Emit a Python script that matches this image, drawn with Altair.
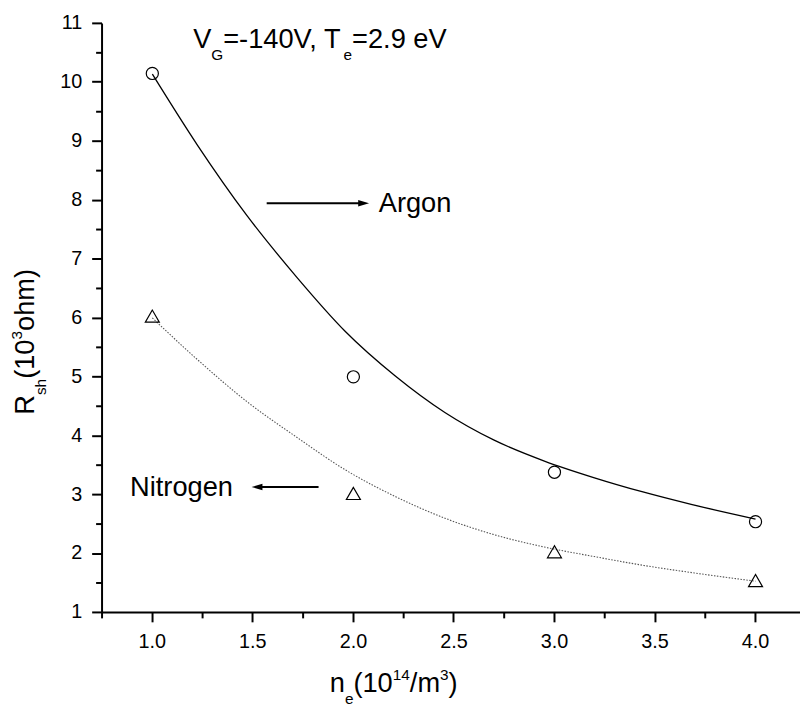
import altair as alt
import pandas as pd

# ---------------- data ----------------
ne = [1.0, 2.0, 3.0, 4.0]
argon_r = [10.15, 5.0, 3.38, 2.54]
nitrogen_r = [6.03, 3.02, 2.03, 1.54]

# fitted curves
argon_fit_x = [1.0, 1.225, 1.47, 1.72, 1.96, 2.21, 2.455, 2.70, 2.95, 3.195, 3.44, 3.685, 4.0]
argon_fit_y = [10.14, 8.93, 7.74, 6.685, 5.77, 5.01, 4.395, 3.925, 3.57, 3.29, 3.045, 2.83, 2.585]

nitrogen_fit_x = [1.0, 1.225, 1.47, 1.72, 1.96, 2.21, 2.455, 2.70, 2.95, 3.195, 3.44, 3.685, 4.0]
nitrogen_fit_y = [6.0, 5.29, 4.58, 3.97, 3.42, 2.965, 2.60, 2.32, 2.11, 1.95, 1.80, 1.675, 1.53]

x_ticks = [1.0, 1.5, 2.0, 2.5, 3.0, 3.5, 4.0]
x_minor = [0.75, 1.25, 1.75, 2.25, 2.75, 3.25, 3.75]
y_ticks = [1, 2, 3, 4, 5, 6, 7, 8, 9, 10, 11]
y_minor = [1.5, 2.5, 3.5, 4.5, 5.5, 6.5, 7.5, 8.5, 9.5, 10.5]

# ---------------- layout ----------------
FONT = "Liberation Sans"
PAD_L, PAD_T = 95, 12
W_PLOT, H_PLOT = 705, 595
X_MIN, X_MAX = 0.75, 0.75 + 705 / 203.1
Y_MIN, Y_MAX = 1, 11
PAGE_X0, PAGE_Y0 = 8 + PAD_L, 8 + PAD_T  # page position of plot origin

axis_common = dict(
    grid=False, title=None, domainColor="black", domainWidth=2,
    tickColor="black", tickWidth=2, tickSize=10, translate=0,
    labelColor="black", labelFont=FONT, labelFontSize=20,
    labelPadding=10, labelFlush=False, labelOverlap=False,
)

x_enc = alt.X("x:Q",
              scale=alt.Scale(domain=[X_MIN, X_MAX], nice=False, zero=False),
              axis=alt.Axis(values=x_ticks, format=".1f", **axis_common))
y_enc = alt.Y("y:Q",
              scale=alt.Scale(domain=[Y_MIN, Y_MAX], nice=False, zero=False),
              axis=alt.Axis(values=y_ticks, format="d", **axis_common))

argon_fit = pd.DataFrame({"x": argon_fit_x, "y": argon_fit_y})
nitro_fit = pd.DataFrame({"x": nitrogen_fit_x, "y": nitrogen_fit_y})
argon_pts = pd.DataFrame({"x": ne, "y": argon_r})
nitro_pts = pd.DataFrame({"x": ne, "y": nitrogen_r})

layers = []

layers.append(alt.Chart(argon_fit).mark_line(
    color="black", strokeWidth=1.3, interpolate="monotone").encode(x=x_enc, y=y_enc))
layers.append(alt.Chart(nitro_fit).mark_line(
    color="#555555", strokeWidth=1.1, strokeDash=[1.5, 1.5], interpolate="monotone").encode(x=x_enc, y=y_enc))
layers.append(alt.Chart(argon_pts).mark_point(
    shape="circle", filled=False, stroke="black", strokeWidth=1.2, size=150, opacity=1).encode(x=x_enc, y=y_enc))
layers.append(alt.Chart(nitro_pts).mark_point(
    shape="triangle-up", filled=False, stroke="black", strokeWidth=1.2, size=200, opacity=1).encode(x=x_enc, y=y_enc))

# minor ticks
layers.append(alt.Chart(pd.DataFrame({"x": x_minor})).mark_rule(color="black", strokeWidth=2).encode(
    x=x_enc, y=alt.value(H_PLOT), y2=alt.value(H_PLOT + 6)))
layers.append(alt.Chart(pd.DataFrame({"y": y_minor})).mark_rule(color="black", strokeWidth=2).encode(
    y=y_enc, x=alt.value(0), x2=alt.value(-6)))

# ---------------- rich text helpers ----------------
ADV = {'V': .667, 'G': .778, '=': .584, '-': .333, '1': .556, '4': .556, '0': .556, ',': .278,
       ' ': .278, 'T': .611, 'e': .556, '2': .556, '.': .278, '9': .556, 'n': .556, '(': .333,
       ')': .333, '/': .278, 'm': .833, '3': .556, 'R': .722, 's': .5, 'h': .556, 'o': .556,
       'A': .667, 'r': .333, 'g': .556, 'N': .722, 'i': .222, 't': .278}

MAIN_FS, SMALL_FS, SHIFT = 27.5, 15.5, 12


def rich_text(runs, x0, y0, vertical=False):
    out = []
    pos = 0.0
    for txt, kind in runs:
        fs = MAIN_FS if kind == "main" else SMALL_FS
        off = 0 if kind == "main" else (SHIFT if kind == "sub" else -SHIFT)
        if vertical:
            px, py = x0 + off, y0 - pos
        else:
            px, py = x0 + pos, y0 + off
        kw = dict(align="left", baseline="alphabetic", font=FONT, fontSize=fs, color="black")
        if vertical:
            kw["angle"] = 270
        out.append(alt.Chart(pd.DataFrame({"t": [txt]})).mark_text(**kw).encode(
            text="t:N", x=alt.value(px - PAGE_X0), y=alt.value(py - PAGE_Y0)))
        pos += sum(ADV[c] for c in txt) * fs
    return out


# top annotation
layers += rich_text([("V", "main"), ("G", "sub"), ("=-140V, T", "main"), ("e", "sub"), ("=2.9 eV", "main")],
                    195, 45)
# x title
layers += rich_text([("n", "main"), ("e", "sub"), ("(10", "main"), ("14", "sup"), ("/m", "main"),
                     ("3", "sup"), (")", "main")], 333, 695)
# y title
layers += rich_text([("R", "main"), ("sh", "sub"), ("(10", "main"), ("3", "sup"), ("ohm)", "main")],
                    34.5, 415.3, vertical=True)
# series labels
layers += rich_text([("Argon", "main")], 382.5, 211)
layers += rich_text([("Nitrogen", "main")], 131.3, 497.5)


def arrow(x_tail, x_tip, y):
    d = 1 if x_tip > x_tail else -1
    shape = "M-1,-0.6L1,0L-1,0.6Z" if d > 0 else "M1,-0.6L-1,0L1,0.6Z"
    line = alt.Chart(pd.DataFrame({"a": [0]})).mark_rule(color="black", strokeWidth=1.8).encode(
        x=alt.value(x_tail - PAGE_X0), x2=alt.value(x_tip - d * 8 - PAGE_X0), y=alt.value(y - PAGE_Y0))
    head = alt.Chart(pd.DataFrame({"a": [0]})).mark_point(
        shape=shape, filled=True, color="black", size=121, opacity=1, strokeWidth=0).encode(
        x=alt.value(x_tip - d * 5.5 - PAGE_X0), y=alt.value(y - PAGE_Y0))
    return [line, head]


layers += arrow(269.3, 372.7, 201.7)
layers += arrow(321.7, 254.0, 488.3)

chart = alt.layer(*layers).properties(
    width=W_PLOT, height=H_PLOT,
    autosize=alt.AutoSizeParams(type="none"),
    padding={"left": PAD_L, "top": PAD_T, "right": 0, "bottom": 93},
    background="white",
).configure_view(stroke=None)

chart.save("out.html", embed_options={"renderer": "svg", "actions": False})
